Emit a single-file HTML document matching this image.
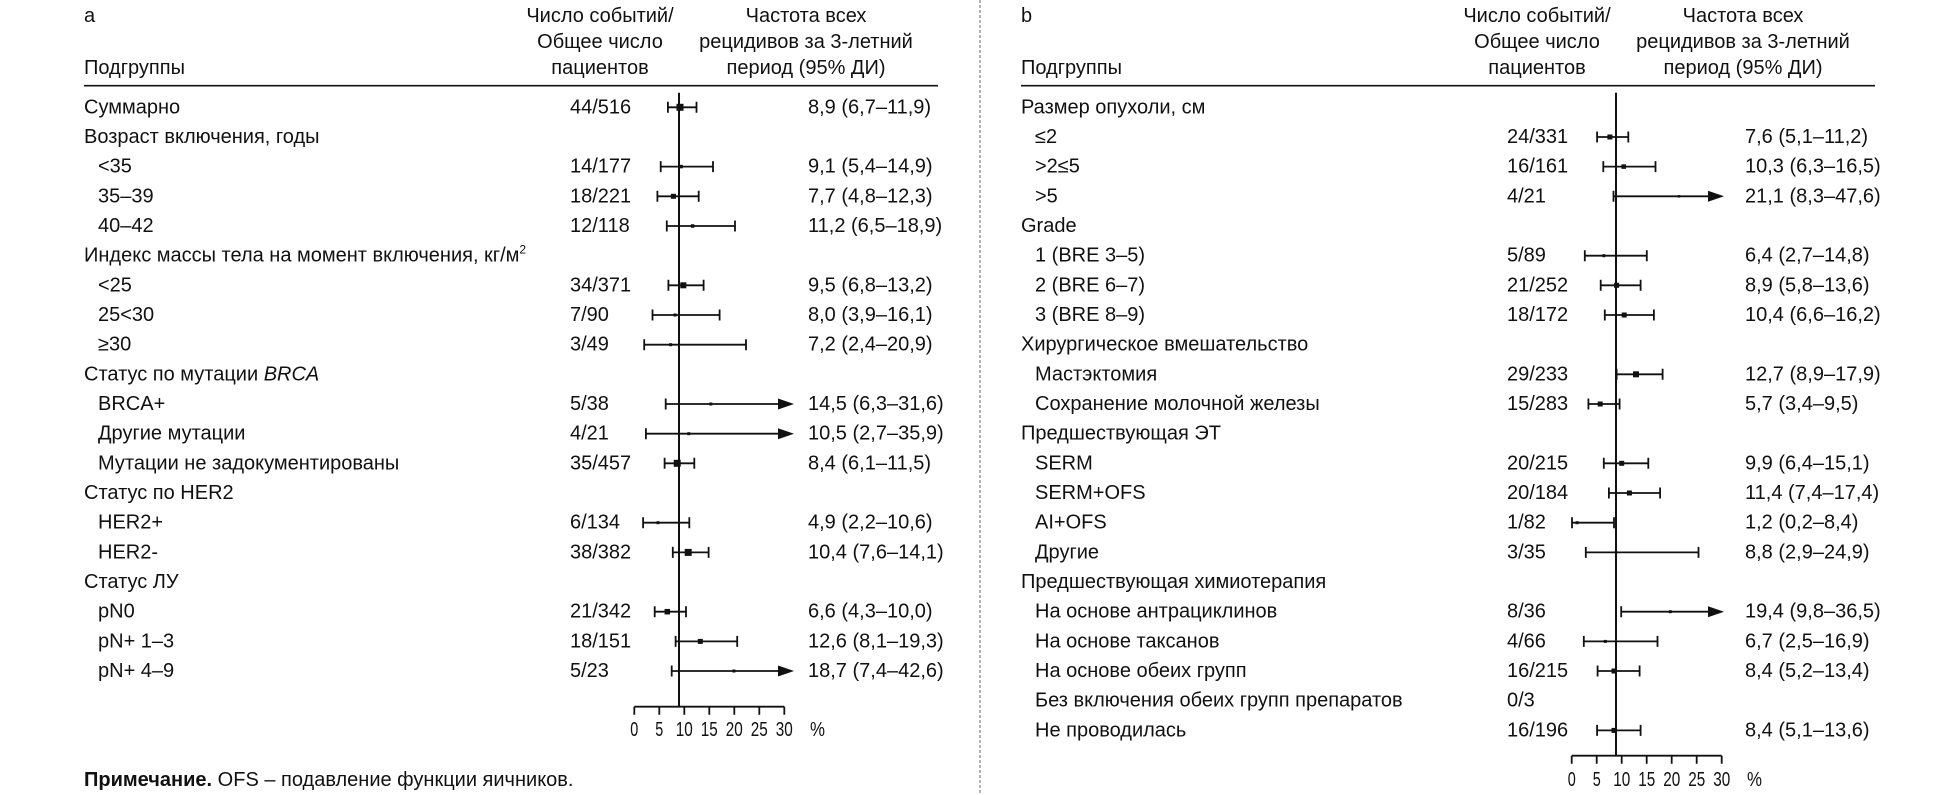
<!DOCTYPE html>
<html><head><meta charset="utf-8"><style>
html,body{margin:0;padding:0;background:#fff;}
svg{display:block;}
text{font-family:"Liberation Sans","DejaVu Sans",sans-serif;font-size:20px;fill:#111;}
.c{text-anchor:middle;}
.ln{stroke:#111;stroke-width:1.8;fill:none;}
.rf{stroke:#111;stroke-width:2;fill:none;}
</style></head><body>
<svg width="1959" height="795" viewBox="0 0 1959 795" xmlns="http://www.w3.org/2000/svg">
<rect width="1959" height="795" fill="#fff"/>
<path d="M980 0V795" stroke="#9a9a9a" stroke-width="1.5" stroke-dasharray="3 2"/>

<!-- LEFT PANEL -->
<text x="84" y="22">a</text>
<text x="600" y="22" class="c">Число событий/</text>
<text x="600" y="48" class="c">Общее число</text>
<text x="600" y="74" class="c">пациентов</text>
<text x="806" y="22" class="c">Частота всех</text>
<text x="806" y="48" class="c">рецидивов за 3-летний</text>
<text x="806" y="74" class="c">период (95% ДИ)</text>
<text x="84" y="74">Подгруппы</text>
<path d="M84 85.7H938" stroke="#111" stroke-width="1.6"/>

<g transform="translate(0,-1)">
<text x="84" y="114.3">Суммарно</text>
<text x="84" y="144">Возраст включения, годы</text>
<text x="98" y="173.6">&lt;35</text>
<text x="98" y="203.3">35–39</text>
<text x="98" y="233">40–42</text>
<text x="84" y="262.7">Индекс массы тела на момент включения, кг/м<tspan dy="-8" font-size="12">2</tspan></text>
<text x="98" y="292.3">&lt;25</text>
<text x="98" y="322">25&lt;30</text>
<text x="98" y="351.7">≥30</text>
<text x="84" y="381.3">Статус по мутации <tspan font-style="italic">BRCA</tspan></text>
<text x="98" y="411">BRCA+</text>
<text x="98" y="440.7">Другие мутации</text>
<text x="98" y="470.3">Мутации не задокументированы</text>
<text x="84" y="500">Статус по HER2</text>
<text x="98" y="529.7">HER2+</text>
<text x="98" y="559.4">HER2-</text>
<text x="84" y="589">Статус ЛУ</text>
<text x="98" y="618.7">pN0</text>
<text x="98" y="648.4">pN+ 1–3</text>
<text x="98" y="678">pN+ 4–9</text>

<text x="570" y="114.3">44/516</text>
<text x="570" y="173.6">14/177</text>
<text x="570" y="203.3">18/221</text>
<text x="570" y="233">12/118</text>
<text x="570" y="292.3">34/371</text>
<text x="570" y="322">7/90</text>
<text x="570" y="351.7">3/49</text>
<text x="570" y="411">5/38</text>
<text x="570" y="440.7">4/21</text>
<text x="570" y="470.3">35/457</text>
<text x="570" y="529.7">6/134</text>
<text x="570" y="559.4">38/382</text>
<text x="570" y="618.7">21/342</text>
<text x="570" y="648.4">18/151</text>
<text x="570" y="678">5/23</text>

<text x="808" y="114.3">8,9 (6,7–11,9)</text>
<text x="808" y="173.6">9,1 (5,4–14,9)</text>
<text x="808" y="203.3">7,7 (4,8–12,3)</text>
<text x="808" y="233">11,2 (6,5–18,9)</text>
<text x="808" y="292.3">9,5 (6,8–13,2)</text>
<text x="808" y="322">8,0 (3,9–16,1)</text>
<text x="808" y="351.7">7,2 (2,4–20,9)</text>
<text x="808" y="411">14,5 (6,3–31,6)</text>
<text x="808" y="440.7">10,5 (2,7–35,9)</text>
<text x="808" y="470.3">8,4 (6,1–11,5)</text>
<text x="808" y="529.7">4,9 (2,2–10,6)</text>
<text x="808" y="559.4">10,4 (7,6–14,1)</text>
<text x="808" y="618.7">6,6 (4,3–10,0)</text>
<text x="808" y="648.4">12,6 (8,1–19,3)</text>
<text x="808" y="678">18,7 (7,4–42,6)</text>
</g>

<path class="rf" d="M679 92.7V706.7"/>
<path class="ln" d="
M667.9 107.3H696.5M667.9 101.8V112.8M696.5 101.8V112.8
M660.7 166.6H713M660.7 161.1V172.1M713 161.1V172.1
M657.4 196.3H698.7M657.4 190.8V201.8M698.7 190.8V201.8
M666.8 226H735M666.8 220.5V231.5M735 220.5V231.5
M668.4 285.3H703.6M668.4 279.8V290.8M703.6 279.8V290.8
M652.5 315H719.6M652.5 309.5V320.5M719.6 309.5V320.5
M644.2 344.7H746M644.2 339.2V350.2M746 339.2V350.2
M665.7 404H780M665.7 398.5V409.5
M645.9 433.7H780M645.9 428.2V439.2
M664.6 463.3H694.3M664.6 457.8V468.8M694.3 457.8V468.8
M643.1 522.7H689.3M643.1 517.2V528.2M689.3 517.2V528.2
M672.8 552.4H708.6M672.8 546.9V557.9M708.6 546.9V557.9
M654.7 611.7H686M654.7 606.2V617.2M686 606.2V617.2
M675.6 641.4H737.2M675.6 635.9V646.9M737.2 635.9V646.9
M671.7 671H780M671.7 665.5V676.5"/>
<g fill="#111">
<polygon points="778,398.5 794,404 778,409.5"/>
<polygon points="778,428.2 794,433.7 778,439.2"/>
<polygon points="778,665.5 794,671 778,676.5"/>
<rect x="676.5" y="103.8" width="7" height="7"/>
<rect x="679.35" y="164.85" width="3.5" height="3.5"/>
<rect x="670.9" y="193.8" width="5" height="5"/>
<rect x="690.85" y="224.25" width="3.5" height="3.5"/>
<rect x="680.3" y="282.3" width="6" height="6"/>
<rect x="673.5" y="313.5" width="3" height="3"/>
<rect x="669.1" y="343.2" width="3" height="3"/>
<rect x="709.3" y="402.5" width="3" height="3"/>
<rect x="687.3" y="432.2" width="3" height="3"/>
<rect x="673.7" y="459.8" width="7" height="7"/>
<rect x="656.5" y="521.2" width="3" height="3"/>
<rect x="684.7" y="548.9" width="7" height="7"/>
<rect x="664.55" y="608.95" width="5.5" height="5.5"/>
<rect x="697.8" y="638.9" width="5" height="5"/>
<rect x="732.4" y="669.5" width="3" height="3"/>
</g>
<path class="ln" d="M634.3 706.7H784.3M634.3 706.7v8M659.3 706.7v8M684.3 706.7v8M709.3 706.7v8M734.3 706.7v8M759.3 706.7v8M784.3 706.7v8"/>
<text x="634.3" y="736" class="c" textLength="8" lengthAdjust="spacingAndGlyphs">0</text>
<text x="659.3" y="736" class="c" textLength="8" lengthAdjust="spacingAndGlyphs">5</text>
<text x="684.3" y="736" class="c" textLength="17" lengthAdjust="spacingAndGlyphs">10</text>
<text x="709.3" y="736" class="c" textLength="17" lengthAdjust="spacingAndGlyphs">15</text>
<text x="734.3" y="736" class="c" textLength="17" lengthAdjust="spacingAndGlyphs">20</text>
<text x="759.3" y="736" class="c" textLength="17" lengthAdjust="spacingAndGlyphs">25</text>
<text x="784.3" y="736" class="c" textLength="17" lengthAdjust="spacingAndGlyphs">30</text>
<text x="810" y="736" textLength="15" lengthAdjust="spacingAndGlyphs">%</text>

<text x="84" y="786"><tspan font-weight="bold">Примечание.</tspan> OFS – подавление функции яичников.</text>

<!-- RIGHT PANEL -->
<text x="1021" y="22">b</text>
<text x="1537" y="22" class="c">Число событий/</text>
<text x="1537" y="48" class="c">Общее число</text>
<text x="1537" y="74" class="c">пациентов</text>
<text x="1743" y="22" class="c">Частота всех</text>
<text x="1743" y="48" class="c">рецидивов за 3-летний</text>
<text x="1743" y="74" class="c">период (95% ДИ)</text>
<text x="1021" y="74">Подгруппы</text>
<path d="M1021 85.7H1875" stroke="#111" stroke-width="1.6"/>

<g transform="translate(0,-1)">
<text x="1021" y="114.3">Размер опухоли, см</text>
<text x="1035" y="144">≤2</text>
<text x="1035" y="173.6">&gt;2≤5</text>
<text x="1035" y="203.3">&gt;5</text>
<text x="1021" y="233">Grade</text>
<text x="1035" y="262.7">1 (BRE 3–5)</text>
<text x="1035" y="292.3">2 (BRE 6–7)</text>
<text x="1035" y="322">3 (BRE 8–9)</text>
<text x="1021" y="351.7">Хирургическое вмешательство</text>
<text x="1035" y="381.3">Мастэктомия</text>
<text x="1035" y="411">Сохранение молочной железы</text>
<text x="1021" y="440.7">Предшествующая ЭТ</text>
<text x="1035" y="470.3">SERM</text>
<text x="1035" y="500">SERM+OFS</text>
<text x="1035" y="529.7">AI+OFS</text>
<text x="1035" y="559.4">Другие</text>
<text x="1021" y="589">Предшествующая химиотерапия</text>
<text x="1035" y="618.7">На основе антрациклинов</text>
<text x="1035" y="648.4">На основе таксанов</text>
<text x="1035" y="678">На основе обеих групп</text>
<text x="1035" y="707.7">Без включения обеих групп препаратов</text>
<text x="1035" y="737.4">Не проводилась</text>

<text x="1507" y="144">24/331</text>
<text x="1507" y="173.6">16/161</text>
<text x="1507" y="203.3">4/21</text>
<text x="1507" y="262.7">5/89</text>
<text x="1507" y="292.3">21/252</text>
<text x="1507" y="322">18/172</text>
<text x="1507" y="381.3">29/233</text>
<text x="1507" y="411">15/283</text>
<text x="1507" y="470.3">20/215</text>
<text x="1507" y="500">20/184</text>
<text x="1507" y="529.7">1/82</text>
<text x="1507" y="559.4">3/35</text>
<text x="1507" y="618.7">8/36</text>
<text x="1507" y="648.4">4/66</text>
<text x="1507" y="678">16/215</text>
<text x="1507" y="707.7">0/3</text>
<text x="1507" y="737.4">16/196</text>

<text x="1745" y="144">7,6 (5,1–11,2)</text>
<text x="1745" y="173.6">10,3 (6,3–16,5)</text>
<text x="1745" y="203.3">21,1 (8,3–47,6)</text>
<text x="1745" y="262.7">6,4 (2,7–14,8)</text>
<text x="1745" y="292.3">8,9 (5,8–13,6)</text>
<text x="1745" y="322">10,4 (6,6–16,2)</text>
<text x="1745" y="381.3">12,7 (8,9–17,9)</text>
<text x="1745" y="411">5,7 (3,4–9,5)</text>
<text x="1745" y="470.3">9,9 (6,4–15,1)</text>
<text x="1745" y="500">11,4 (7,4–17,4)</text>
<text x="1745" y="529.7">1,2 (0,2–8,4)</text>
<text x="1745" y="559.4">8,8 (2,9–24,9)</text>
<text x="1745" y="618.7">19,4 (9,8–36,5)</text>
<text x="1745" y="648.4">6,7 (2,5–16,9)</text>
<text x="1745" y="678">8,4 (5,2–13,4)</text>
<text x="1745" y="737.4">8,4 (5,1–13,6)</text>
</g>

<path class="rf" d="M1616 92.7V755.7"/>
<path class="ln" d="
M1597.1 137H1628.3M1597.1 131.5V142.5M1628.3 131.5V142.5
M1603.3 166.6H1655.5M1603.3 161.1V172.1M1655.5 161.1V172.1
M1613.5 196.3H1710M1613.5 190.8V201.8
M1584.8 255.7H1646.8M1584.8 250.2V261.2M1646.8 250.2V261.2
M1600.7 285.3H1640.6M1600.7 279.8V290.8M1640.6 279.8V290.8
M1604.8 315H1653.9M1604.8 309.5V320.5M1653.9 309.5V320.5
M1616.6 374.3H1662.6M1616.6 368.8V379.8M1662.6 368.8V379.8
M1588.4 404H1619.6M1588.4 398.5V409.5M1619.6 398.5V409.5
M1603.8 463.3H1648.3M1603.8 457.8V468.8M1648.3 457.8V468.8
M1608.9 493H1660.1M1608.9 487.5V498.5M1660.1 487.5V498.5
M1572 522.7H1614M1572 517.2V528.2M1614 517.2V528.2
M1585.8 552.4H1698.5M1585.8 546.9V557.9M1698.5 546.9V557.9
M1621.2 611.7H1710M1621.2 606.2V617.2
M1583.8 641.4H1657.5M1583.8 635.9V646.9M1657.5 635.9V646.9
M1597.6 671H1639.6M1597.6 665.5V676.5M1639.6 665.5V676.5
M1597.1 730.4H1640.6M1597.1 724.9V735.9M1640.6 724.9V735.9"/>
<g fill="#111">
<polygon points="1708,190.8 1724,196.3 1708,201.8"/>
<polygon points="1708,606.2 1724,611.7 1708,617.2"/>
<rect x="1607.4" y="134.5" width="5" height="5"/>
<rect x="1621.45" y="164.35" width="4.5" height="4.5"/>
<rect x="1677.75" y="195.05" width="2.5" height="2.5"/>
<rect x="1602.3" y="254.2" width="3" height="3"/>
<rect x="1614.1" y="282.8" width="5" height="5"/>
<rect x="1621.7" y="312.5" width="5" height="5"/>
<rect x="1633" y="371.3" width="6" height="6"/>
<rect x="1597.7" y="401.5" width="5" height="5"/>
<rect x="1619.2" y="460.8" width="5" height="5"/>
<rect x="1626.9" y="490.5" width="5" height="5"/>
<rect x="1575.6" y="521.2" width="3" height="3"/>
<rect x="1614.85" y="551.15" width="2.5" height="2.5"/>
<rect x="1668.8" y="610.2" width="3" height="3"/>
<rect x="1603.8" y="639.9" width="3" height="3"/>
<rect x="1611.5" y="668.5" width="5" height="5"/>
<rect x="1611.5" y="727.9" width="5" height="5"/>
</g>
<path class="ln" d="M1571.7 755.7H1721.7M1571.7 755.7v8M1596.7 755.7v8M1621.7 755.7v8M1646.7 755.7v8M1671.7 755.7v8M1696.7 755.7v8M1721.7 755.7v8"/>
<text x="1571.7" y="786" class="c" textLength="8" lengthAdjust="spacingAndGlyphs">0</text>
<text x="1596.7" y="786" class="c" textLength="8" lengthAdjust="spacingAndGlyphs">5</text>
<text x="1621.7" y="786" class="c" textLength="17" lengthAdjust="spacingAndGlyphs">10</text>
<text x="1646.7" y="786" class="c" textLength="17" lengthAdjust="spacingAndGlyphs">15</text>
<text x="1671.7" y="786" class="c" textLength="17" lengthAdjust="spacingAndGlyphs">20</text>
<text x="1696.7" y="786" class="c" textLength="17" lengthAdjust="spacingAndGlyphs">25</text>
<text x="1721.7" y="786" class="c" textLength="17" lengthAdjust="spacingAndGlyphs">30</text>
<text x="1747" y="786" textLength="15" lengthAdjust="spacingAndGlyphs">%</text>
</svg>
</body></html>
